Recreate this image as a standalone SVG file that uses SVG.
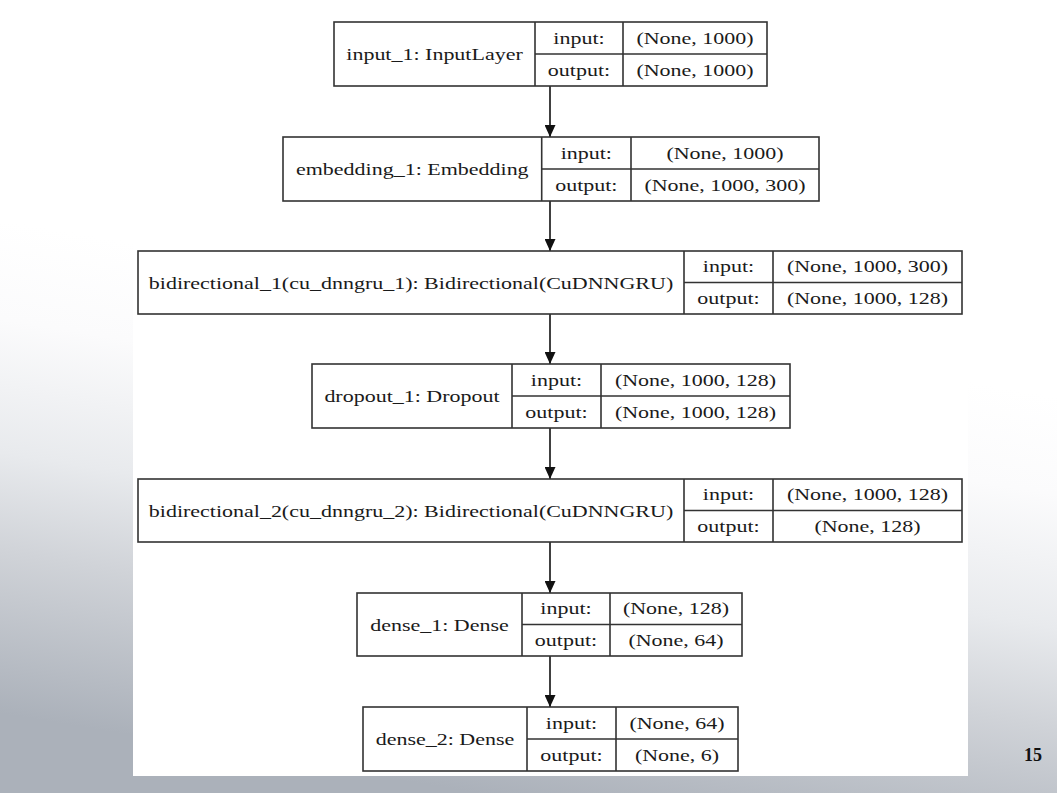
<svg xmlns="http://www.w3.org/2000/svg" width="1057" height="793" viewBox="0 0 1057 793">
<defs>
<linearGradient id="bg" gradientUnits="userSpaceOnUse" x1="600" y1="320" x2="520" y2="800">
<stop offset="0" stop-color="#ffffff"/>
<stop offset="0.2" stop-color="#fbfbfc"/>
<stop offset="0.47" stop-color="#e8eaed"/>
<stop offset="0.67" stop-color="#d0d3d8"/>
<stop offset="1" stop-color="#abb1ba"/>
</linearGradient>
<marker id="ah" markerUnits="userSpaceOnUse" markerWidth="12" markerHeight="11" refX="12" refY="5.5" orient="auto">
<path d="M0,0 L12,5.5 L0,11 z" fill="#111"/>
</marker>
<style>
.box{fill:#fff;stroke:#333;stroke-width:1.6}
.ln{stroke:#333;stroke-width:1.6;fill:none}
.t{font-family:"Liberation Serif","Times New Roman",serif;font-size:17.6px;fill:#1a1a1a;text-anchor:middle}
.edge{stroke:#111;stroke-width:1.6;fill:none;marker-end:url(#ah)}
.pg{font-family:"Liberation Serif","Times New Roman",serif;font-size:18px;font-weight:bold;fill:#111;text-anchor:middle}
</style>
</defs>
<rect x="0" y="0" width="1057" height="793" fill="url(#bg)"/>
<rect x="133" y="0" width="835" height="776" fill="#ffffff"/>

<g id="connectors">
<line class="edge" x1="550" y1="86" x2="550" y2="137"/>
<line class="edge" x1="550" y1="201" x2="550" y2="251"/>
<line class="edge" x1="550" y1="314" x2="550" y2="364"/>
<line class="edge" x1="550" y1="428" x2="550" y2="479"/>
<line class="edge" x1="550" y1="542" x2="550" y2="593"/>
<line class="edge" x1="550" y1="656" x2="550" y2="707"/>
</g>

<g id="input_1">
<rect class="box" x="334" y="22" width="433" height="64"/>
<path class="ln" d="M535,22 V86 M623,22 V86 M535,54 H767"/>
<text class="t" transform="translate(434.5,60) scale(1.25,1)">input_1: InputLayer</text>
<text class="t" transform="translate(579,43.5) scale(1.25,1)">input:</text>
<text class="t" transform="translate(579,75.5) scale(1.25,1)">output:</text>
<text class="t" transform="translate(695,43.5) scale(1.25,1)">(None, 1000)</text>
<text class="t" transform="translate(695,75.5) scale(1.25,1)">(None, 1000)</text>
</g>

<g id="embedding_1">
<rect class="box" x="283" y="137" width="536" height="64"/>
<path class="ln" d="M541.7,137 V201 M631,137 V201 M541.7,169 H819"/>
<text class="t" transform="translate(412.3,175) scale(1.25,1)">embedding_1: Embedding</text>
<text class="t" transform="translate(586.3,158.5) scale(1.25,1)">input:</text>
<text class="t" transform="translate(586.3,190.5) scale(1.25,1)">output:</text>
<text class="t" transform="translate(725,158.5) scale(1.25,1)">(None, 1000)</text>
<text class="t" transform="translate(725,190.5) scale(1.25,1)">(None, 1000, 300)</text>
</g>

<g id="bidirectional_1">
<rect class="box" x="138" y="251" width="824" height="63"/>
<path class="ln" d="M684,251 V314 M773,251 V314 M684,282.5 H962"/>
<text class="t" transform="translate(411,288.5) scale(1.25,1)">bidirectional_1(cu_dnngru_1): Bidirectional(CuDNNGRU)</text>
<text class="t" transform="translate(728.5,272.3) scale(1.25,1)">input:</text>
<text class="t" transform="translate(728.5,303.8) scale(1.25,1)">output:</text>
<text class="t" transform="translate(867.5,272.3) scale(1.25,1)">(None, 1000, 300)</text>
<text class="t" transform="translate(867.5,303.8) scale(1.25,1)">(None, 1000, 128)</text>
</g>

<g id="dropout_1">
<rect class="box" x="312" y="364" width="478" height="64"/>
<path class="ln" d="M512,364 V428 M601,364 V428 M512,396 H790"/>
<text class="t" transform="translate(412,402) scale(1.25,1)">dropout_1: Dropout</text>
<text class="t" transform="translate(556.5,385.5) scale(1.25,1)">input:</text>
<text class="t" transform="translate(556.5,417.5) scale(1.25,1)">output:</text>
<text class="t" transform="translate(695.5,385.5) scale(1.25,1)">(None, 1000, 128)</text>
<text class="t" transform="translate(695.5,417.5) scale(1.25,1)">(None, 1000, 128)</text>
</g>

<g id="bidirectional_2">
<rect class="box" x="138" y="479" width="824" height="63"/>
<path class="ln" d="M684,479 V542 M773,479 V542 M684,510.5 H962"/>
<text class="t" transform="translate(411,516.5) scale(1.25,1)">bidirectional_2(cu_dnngru_2): Bidirectional(CuDNNGRU)</text>
<text class="t" transform="translate(728.5,500.3) scale(1.25,1)">input:</text>
<text class="t" transform="translate(728.5,531.8) scale(1.25,1)">output:</text>
<text class="t" transform="translate(867.5,500.3) scale(1.25,1)">(None, 1000, 128)</text>
<text class="t" transform="translate(867.5,531.8) scale(1.25,1)">(None, 128)</text>
</g>

<g id="dense_1">
<rect class="box" x="357" y="593" width="385" height="63"/>
<path class="ln" d="M522,593 V656 M610,593 V656 M522,624.5 H742"/>
<text class="t" transform="translate(439.5,630.5) scale(1.25,1)">dense_1: Dense</text>
<text class="t" transform="translate(566,614.3) scale(1.25,1)">input:</text>
<text class="t" transform="translate(566,645.8) scale(1.25,1)">output:</text>
<text class="t" transform="translate(676,614.3) scale(1.25,1)">(None, 128)</text>
<text class="t" transform="translate(676,645.8) scale(1.25,1)">(None, 64)</text>
</g>

<g id="dense_2">
<rect class="box" x="363" y="707" width="375" height="64"/>
<path class="ln" d="M527,707 V771 M616,707 V771 M527,739 H738"/>
<text class="t" transform="translate(445,745) scale(1.25,1)">dense_2: Dense</text>
<text class="t" transform="translate(571.5,728.5) scale(1.25,1)">input:</text>
<text class="t" transform="translate(571.5,760.5) scale(1.25,1)">output:</text>
<text class="t" transform="translate(677,728.5) scale(1.25,1)">(None, 64)</text>
<text class="t" transform="translate(677,760.5) scale(1.25,1)">(None, 6)</text>
</g>

<text class="pg" x="1033" y="761">15</text>
</svg>
